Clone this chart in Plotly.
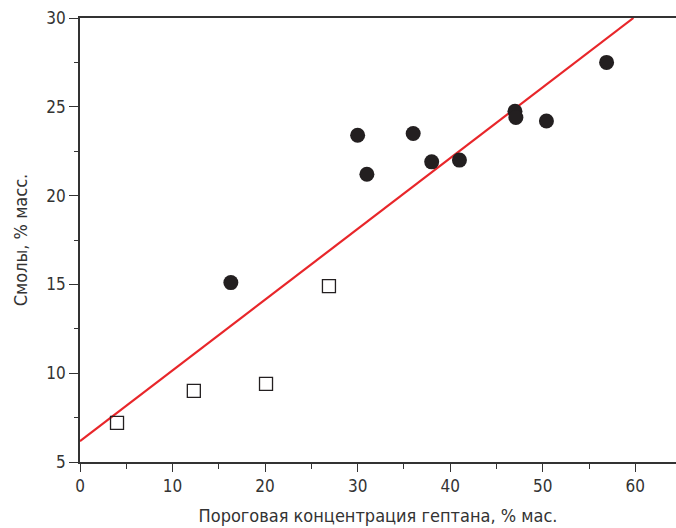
import plotly.graph_objects as go

# Data
filled_x = [16.3, 30.0, 31.0, 36.0, 38.0, 41.0, 47.0, 47.1, 50.4, 56.9]
filled_y = [15.1, 23.4, 21.2, 23.5, 21.9, 22.0, 24.75, 24.4, 24.2, 27.5]
open_x = [4.0, 12.3, 20.1, 26.9]
open_y = [7.2, 9.0, 9.4, 14.9]
fit_x = [0.0, 59.8]
fit_y = [6.17, 30.0]

FONT = "Liberation Sans Narrow, DejaVu Sans Condensed, Arial Narrow, sans-serif"
DARK = "#231f20"

fig = go.Figure()
fig.add_trace(go.Scatter(x=fit_x, y=fit_y, mode="lines",
                         line=dict(color="#e8262a", width=2.2), showlegend=False))
fig.add_trace(go.Scatter(x=open_x, y=open_y, mode="markers",
                         marker=dict(symbol="square-open", size=13, color=DARK,
                                     line=dict(width=1.3, color=DARK)),
                         showlegend=False))
fig.add_trace(go.Scatter(x=filled_x, y=filled_y, mode="markers",
                         marker=dict(symbol="circle", size=15, color=DARK,
                                     line=dict(width=0)),
                         showlegend=False))

fig.update_layout(
    width=676, height=528,
    margin=dict(l=80, r=0, t=18, b=66),
    paper_bgcolor="white", plot_bgcolor="white",
    font=dict(family=FONT, size=17, color="#333333"),
    xaxis=dict(range=[0, 64.4], tickvals=[0, 10, 20, 30, 40, 50, 60],
               ticks="outside", ticklen=8, tickwidth=1.3, tickcolor="#333333",
               minor=dict(tickvals=[5, 15, 25, 35, 45, 55], ticks="outside",
                          ticklen=5, tickwidth=1.3, tickcolor="#333333"),
               showline=True, linecolor="#333333", linewidth=1.6, mirror=True,
               showgrid=False, zeroline=False,
               title=dict(text="Пороговая концентрация гептана, % мас.",
                          font=dict(size=18), standoff=14)),
    yaxis=dict(range=[5, 30], tickvals=[5, 10, 15, 20, 25, 30],
               ticks="outside", ticklen=9, tickwidth=1.3, tickcolor="#333333",
               minor=dict(tickvals=[7.5, 12.5, 17.5, 22.5, 27.5], ticks="outside",
                          ticklen=4, tickwidth=1.3, tickcolor="#333333"),
               showline=True, linecolor="#333333", linewidth=1.6,
               showgrid=False, zeroline=False,
               title=dict(text="Смолы, % масс.", font=dict(size=18), standoff=14)),
)

fig.write_html("out.html")
